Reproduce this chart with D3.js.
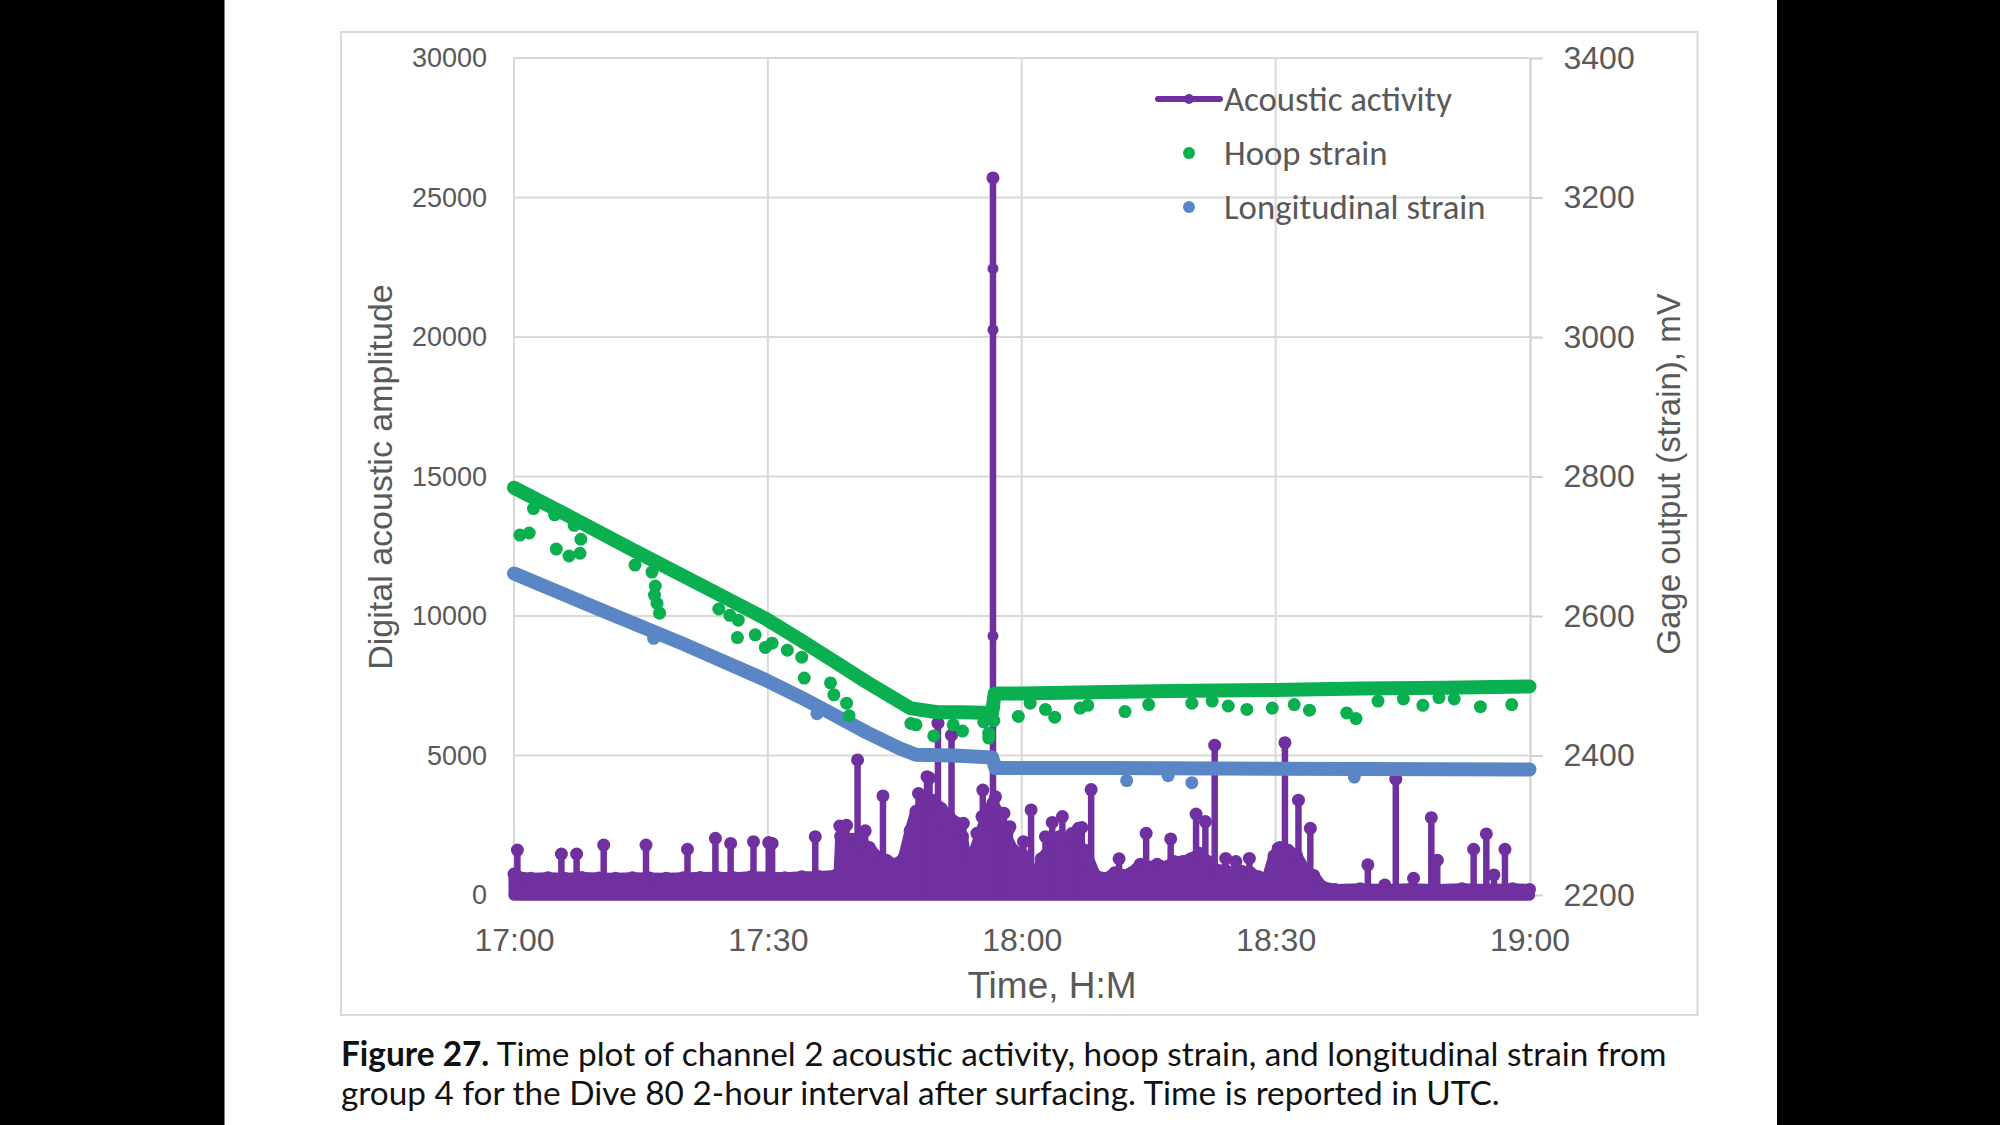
<!DOCTYPE html>
<html><head><meta charset="utf-8">
<script src="https://cdn.jsdelivr.net/npm/d3@7"></script>
<style>html,body{margin:0;padding:0;background:#000;} svg{display:block}</style>
</head><body>
<svg id="chart" width="2000" height="1125"></svg>
<script>
// ---------------- DATA ----------------
const xTickMinutes = [0, 30, 60, 90, 120];            // minutes after 17:00
const xTickLabels  = ["17:00", "17:30", "18:00", "18:30", "19:00"];
const leftTicks  = [0, 5000, 10000, 15000, 20000, 25000, 30000];
const rightTicks = [2200, 2400, 2600, 2800, 3000, 3200, 3400];

// Acoustic activity: dense noise band upper envelope [minute, amplitude]
const acousticBandTime = [0,0.5,2,4,6,8,10,12,14,16,18,20,22,24,26,28,30,32,34,36,38,38.4,38.6,40,41,42,43,44,45,46,46.8,47.5,48.5,49.5,50.5,51.2,52.2,53,53.6,54.2,55,56,56.6,57.3,58,59,59.5,60.3,61.7,62.3,63.5,64.5,65.5,66.5,67.5,68.7,70,71,72,73,74,75,76,77,78,79,80,81,82,83,84,85,86,87,88,89,89.8,90.5,91.5,92.5,93.5,94.5,95.5,97,100,103,106,109,112,115,118,120];
const acousticBandTop  = [750,650,600,620,600,630,610,600,620,610,600,620,630,640,620,650,640,620,650,660,700,700,2100,2000,1900,1700,1350,1250,1100,1300,2300,3000,3300,3400,3100,2900,2600,2100,900,1400,2100,3000,3300,2900,2200,1600,1500,1400,500,1300,1700,2100,2000,1800,1600,700,600,800,700,800,1100,1000,1100,1000,1200,1200,1300,1500,1200,900,900,800,850,800,650,600,1400,1700,1600,1400,900,700,300,200,220,200,220,200,220,200,220,200];
// Acoustic spikes [minute, peak amplitude]
const acousticSpikeTime = [0.4,5.6,7.4,10.6,15.6,20.5,23.8,25.6,28.3,30.1,30.5,35.6,38.5,39.3,40.6,41.5,43.6,47.0,47.8,48.8,49.1,50.1,51.0,51.7,52.5,53.1,54.7,55.3,55.4,56.6,56.9,57.7,57.9,58.4,58.6,60.2,61.1,62.8,63.6,64.8,65.9,66.7,67.1,68.2,71.5,74.7,77.6,80.6,81.7,82.8,84.1,85.3,86.9,90.3,91.1,92.7,94.1,100.9,102.9,104.2,106.3,108.4,109.1,113.4,114.9,115.8,117.1];
const acousticSpikePeak = [1610,1470,1470,1790,1790,1640,2030,1850,1910,1880,1850,2090,2470,2500,4840,2300,3550,2030,3640,4240,4190,6160,2690,5730,2450,2570,2210,2810,3760,25700,3520,2930,2930,2330,2450,1910,3050,2090,2600,2810,2200,2390,2420,3780,1300,2210,2010,2900,2630,5370,1310,1200,1310,1670,5460,3400,2390,1080,360,4150,600,2770,1250,1640,2190,720,1640];
// Extra readings on the largest spike
const acousticExtraTime = [56.6, 56.6, 56.6];
const acousticExtraVal  = [22450, 20260, 9280];

// Hoop strain (mV): dense trend readings
const hoopTime = [0,7,14,22,29.6,33.8,37.7,41.7,46.8,50,53,56.5,56.8,60,70,80,90,100,110,120];
const hoopMv   = [2784,2740,2695,2645,2597,2566,2536,2505,2468,2462,2462,2461,2489,2489,2491,2493,2494,2496,2497,2499];
// Hoop strain scattered readings below the trend
const hoopOutTime = [0.7,1.8,2.3,4.8,5.0,6.5,7.8,7.9,7.1,14.3,16.3,16.7,16.6,16.9,17.2,24.2,25.5,26.5,26.4,28.5,29.7,30.5,32.3,34.0,34.3,37.4,37.8,39.3,39.6,47.5,49.6,51.9,55.5,56.1,56.1,56.7,56.7,59.6,61.0,62.8,63.9,66.9,67.8,72.2,75.0,80.1,82.5,84.4,86.6,89.6,92.2,94.0,98.4,99.5,102.1,105.1,107.4,109.3,111.1,114.2,117.9,46.9,53.0];
const hoopOutMv   = [2716,2719,2754,2745,2696,2686,2690,2710,2730,2673,2663,2643,2630,2618,2604,2610,2601,2594,2569,2573,2555,2561,2551,2541,2511,2504,2487,2475,2457,2444,2428,2444,2448,2432,2425,2470,2450,2456,2475,2466,2455,2468,2472,2463,2473,2475,2478,2471,2466,2468,2473,2465,2461,2453,2478,2481,2472,2483,2481,2470,2473,2446,2435];

// Longitudinal strain (mV)
const longTime = [0,10,20,29.6,33.8,37.7,41.7,45.6,47.5,52,56.5,56.9,70,90,120];
const longMv   = [2661,2610,2560,2509,2484,2459,2433,2410,2401,2400,2397,2382,2382,2381,2380];
const longOutTime = [16.5,35.8,72.4,77.3,80.1,99.3,56.7];
const longOutMv   = [2568,2460,2364,2371,2361,2369,2390];

const legendLabels = ["Acoustic activity", "Hoop strain", "Longitudinal strain"];
const captionBold = "Figure 27.";
const captionLine1 = " Time plot of channel 2 acoustic activity, hoop strain, and longitudinal strain from";
const captionLine2 = "group 4 for the Dive 80 2-hour interval after surfacing. Time is reported in UTC.";

// ---------------- STYLE ----------------
const PURPLE = "#7030A0", GREEN = "#0AAF50", BLUE = "#5A86C6";
const GRID = "#D9D9D9", TXT = "#595959";
const AXF = "'Liberation Sans', Arial, sans-serif";

const svg = d3.select("#chart");
svg.append("rect").attr("x",0).attr("y",0).attr("width",2000).attr("height",1125).attr("fill","#000");
svg.append("rect").attr("x",224.5).attr("y",0).attr("width",1552.5).attr("height",1125).attr("fill","#fff");
svg.append("rect").attr("x",341).attr("y",32).attr("width",1356.5).attr("height",983)
  .attr("fill","#fff").attr("stroke",GRID).attr("stroke-width",2);

const x  = d3.scaleLinear().domain([0,120]).range([514,1529.5]);
const yL = d3.scaleLinear().domain([0,30000]).range([895,58]);
const yR = d3.scaleLinear().domain([2200,3400]).range([895,58]);

// gridlines
const g = svg.append("g");
g.selectAll("line.h").data(leftTicks).join("line")
  .attr("x1",x(0)).attr("x2",x(120)).attr("y1",d=>yL(d)).attr("y2",d=>yL(d))
  .attr("stroke",GRID).attr("stroke-width",2);
g.selectAll("line.v").data(xTickMinutes.slice(1,4)).join("line")
  .attr("x1",d=>x(d)).attr("x2",d=>x(d)).attr("y1",yL(30000)).attr("y2",yL(0))
  .attr("stroke",GRID).attr("stroke-width",2);
g.append("line").attr("x1",x(0)).attr("x2",x(0)).attr("y1",yL(30000)).attr("y2",yL(0)).attr("stroke",GRID).attr("stroke-width",2);
g.append("line").attr("x1",x(120)+1).attr("x2",x(120)+1).attr("y1",yL(30000)).attr("y2",yL(0)).attr("stroke","#CFCFCF").attr("stroke-width",2);

// axes
const axL = svg.append("g").attr("transform",`translate(${x(0)},0)`)
  .call(d3.axisLeft(yL).tickValues(leftTicks).tickSize(0).tickPadding(27).tickFormat(d3.format("d")));
const axR = svg.append("g").attr("transform",`translate(${x(120)+1},0)`)
  .call(d3.axisRight(yR).tickValues(rightTicks).tickSize(12).tickPadding(21).tickFormat(d3.format("d")));
const axB = svg.append("g").attr("transform",`translate(0,${yL(0)})`)
  .call(d3.axisBottom(x).tickValues(xTickMinutes).tickSize(0).tickPadding(33).tickFormat((d,i)=>xTickLabels[i]));
[axL,axR,axB].forEach(a=>{ a.select(".domain").remove(); a.selectAll("text").attr("fill",TXT).attr("font-family",AXF); });
axL.selectAll("text").attr("font-size",27);
axR.selectAll("text").attr("font-size",32);
axB.selectAll("text").attr("font-size",32);
axR.selectAll(".tick line").attr("stroke","#CFCFCF").attr("stroke-width",2);

// axis titles
svg.append("text").attr("x",1052).attr("y",985).attr("text-anchor","middle").attr("dominant-baseline","central")
  .attr("font-family",AXF).attr("font-size",37).attr("fill",TXT).text("Time, H:M");
svg.append("text").attr("transform","translate(380,477) rotate(-90)").attr("text-anchor","middle").attr("dominant-baseline","central")
  .attr("font-family",AXF).attr("font-size",34).attr("fill",TXT).text("Digital acoustic amplitude");
svg.append("text").attr("transform","translate(1668,474) rotate(-90)").attr("text-anchor","middle").attr("dominant-baseline","central")
  .attr("font-family",AXF).attr("font-size",33).attr("fill",TXT).text("Gage output (strain), mV");

// ---------------- ACOUSTIC ----------------
const plot = svg.append("g");
const band = acousticBandTime.map((t,i)=>[t,acousticBandTop[i]]);
plot.append("path").datum(band)
  .attr("d", d3.area().x(d=>x(d[0])).y0(yL(0)).y1(d=>yL(d[1])))
  .attr("fill",PURPLE).attr("stroke",PURPLE).attr("stroke-width",11).attr("stroke-linejoin","round");
plot.selectAll("circle.bandpt").data(band).join("circle")
  .attr("cx",d=>x(d[0])).attr("cy",d=>yL(d[1])).attr("r",6.5).attr("fill",PURPLE);
plot.append("line").attr("x1",x(0)).attr("x2",x(120)).attr("y1",yL(0)).attr("y2",yL(0))
  .attr("stroke",PURPLE).attr("stroke-width",11).attr("stroke-linecap","round");

const spikes = acousticSpikeTime.map((t,i)=>[t,acousticSpikePeak[i]]);
plot.selectAll("line.spike").data(spikes).join("line")
  .attr("x1",d=>x(d[0])).attr("x2",d=>x(d[0])).attr("y1",yL(0)).attr("y2",d=>yL(d[1]))
  .attr("stroke",PURPLE).attr("stroke-width",6.5);
plot.selectAll("circle.spk").data(spikes).join("circle")
  .attr("cx",d=>x(d[0])).attr("cy",d=>yL(d[1])).attr("r",6.5).attr("fill",PURPLE);
plot.selectAll("circle.ext").data(acousticExtraTime.map((t,i)=>[t,acousticExtraVal[i]])).join("circle")
  .attr("cx",d=>x(d[0])).attr("cy",d=>yL(d[1])).attr("r",5.5).attr("fill",PURPLE);

// ---------------- STRAINS ----------------
function drawStrain(times, vals, outT, outV, color){
  const pts = times.map((t,i)=>[t,vals[i]]);
  const gg = svg.append("g");
  gg.append("path").datum(pts).attr("d", d3.line().x(d=>x(d[0])).y(d=>yR(d[1])))
    .attr("fill","none").attr("stroke",color).attr("stroke-width",14)
    .attr("stroke-linejoin","round").attr("stroke-linecap","round");
  gg.selectAll("circle.o").data(outT.map((t,i)=>[t,outV[i]])).join("circle")
    .attr("cx",d=>x(d[0])).attr("cy",d=>yR(d[1])).attr("r",6.5).attr("fill",color);
}
drawStrain(longTime, longMv, longOutTime, longOutMv, BLUE);
drawStrain(hoopTime, hoopMv, hoopOutTime, hoopOutMv, GREEN);

// ---------------- LEGEND ----------------
const LF = "Carlito, Lato, 'Open Sans', sans-serif";
const leg = svg.append("g");
leg.append("line").attr("x1",1158).attr("x2",1220).attr("y1",99).attr("y2",99)
  .attr("stroke",PURPLE).attr("stroke-width",6).attr("stroke-linecap","round");
leg.append("circle").attr("cx",1189).attr("cy",99).attr("r",5).attr("fill",PURPLE);
leg.append("circle").attr("cx",1189).attr("cy",153).attr("r",6).attr("fill",GREEN);
leg.append("circle").attr("cx",1189).attr("cy",207).attr("r",6).attr("fill",BLUE);
const legTexts = leg.selectAll("text").data(legendLabels).join("text")
  .attr("x",1224).attr("y",(d,i)=>99+i*54).attr("dominant-baseline","central")
  .attr("font-family",LF).attr("font-size",32).attr("fill",TXT).text(d=>d);
const w0 = legTexts.nodes()[0].getComputedTextLength();
legTexts.attr("font-size", 32*228/w0);

// ---------------- CAPTION ----------------
const CF = "Lato, 'Open Sans', sans-serif";
const cap1 = svg.append("text").attr("x",341).attr("y",1066).attr("font-family",CF).attr("font-size",30).attr("fill","#111");
cap1.append("tspan").attr("font-weight","bold").text(captionBold);
cap1.append("tspan").text(captionLine1);
const cap2 = svg.append("text").attr("x",341).attr("y",1105).attr("font-family",CF).attr("font-size",30).attr("fill","#111").text(captionLine2);
const cw = cap1.node().getComputedTextLength();
const fs = 30*1326/cw;
cap1.attr("font-size",fs); cap2.attr("font-size",fs);
</script>
</body></html>
